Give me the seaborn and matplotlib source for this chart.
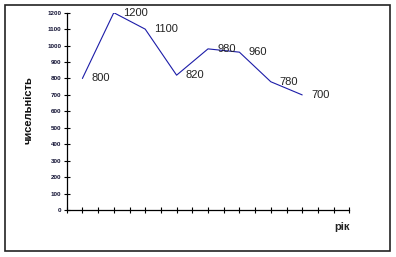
import matplotlib
matplotlib.use("Agg")
import matplotlib.pyplot as plt
import seaborn as sns
import pandas as pd
from matplotlib.patches import Rectangle

# data
positions = [1, 3, 5, 7, 9, 11, 13, 15]
values = [800, 1200, 1100, 820, 980, 960, 780, 700]
y_ticks = list(range(0, 1300, 100))
x_ticks = list(range(0, 19))

sns.set_style("white")
plt.rcParams['font.family'] = ['Liberation Sans', 'DejaVu Sans']

df = pd.DataFrame({"x": positions, "y": values})

fig = plt.figure(figsize=(3.96, 2.57), dpi=100)
ax = fig.add_axes([66.7/396, 1-210/257, (349.3-66.7)/396, (210-12.7)/257])
sns.lineplot(data=df, x="x", y="y", ax=ax, color="#1c1ca8", linewidth=0.8)

for xv, yv in zip(positions, values):
    ax.annotate(str(yv), (xv, yv), xytext=(6.5, 0), textcoords="offset points",
                ha="left", va="center", fontsize=8, color="#222222")

ax.set_xlim(0, 18)
ax.set_ylim(0, 1200)
ax.set_xticks(x_ticks)
ax.set_xticklabels([])
ax.set_yticks(y_ticks)
ax.set_yticklabels([str(t) for t in y_ticks], fontsize=4.5, color="#111133", fontweight="bold")
ax.tick_params(axis="both", direction="inout", length=4, width=0.8, color="black", pad=2)
ax.tick_params(axis="y", left=True)
ax.tick_params(axis="x", bottom=True)
for s in ["top", "right"]:
    ax.spines[s].set_visible(False)
for s in ["left", "bottom"]:
    ax.spines[s].set_color("black")
    ax.spines[s].set_linewidth(0.9)
ax.set_xlabel("")
ax.set_ylabel("чисельність", fontsize=8, fontweight="bold", color="#111111")
ax.yaxis.set_label_coords(-0.116, 0.505)

fig.text(342/396, 1-227/257, "рік", fontsize=8, fontweight="bold", ha="center", va="center", color="#222222")

fig.patches.append(Rectangle((5/396, 1-251/257), 385/396, 246/257, transform=fig.transFigure,
                             fill=False, edgecolor="#222222", linewidth=1.2))

fig.savefig("out.png", dpi=100)
